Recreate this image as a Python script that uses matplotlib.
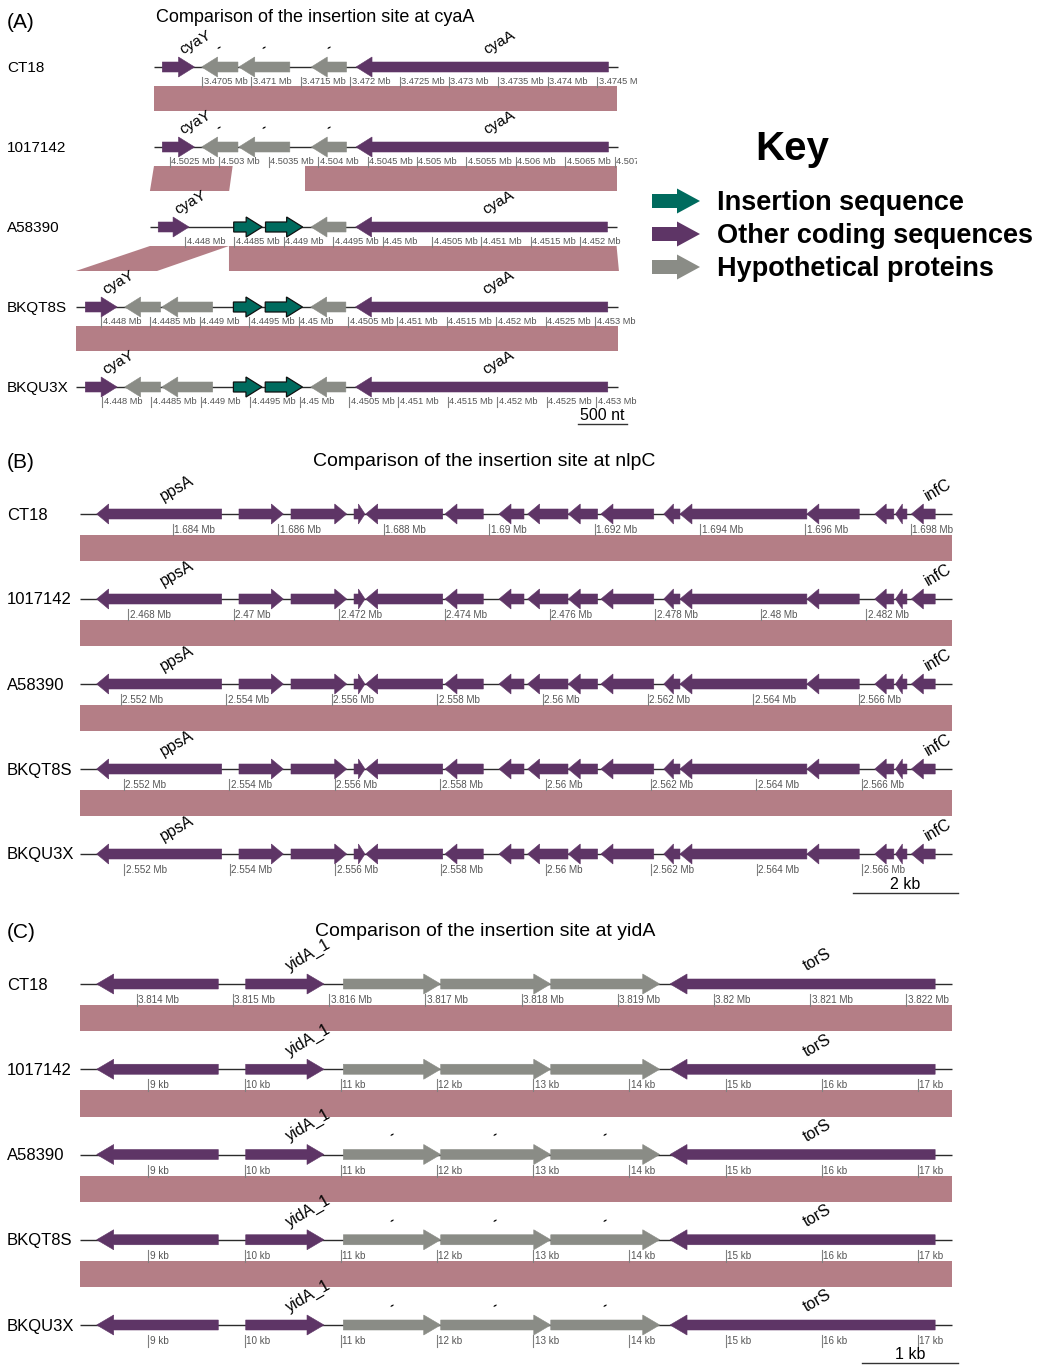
import matplotlib
matplotlib.use("Agg")
import matplotlib.pyplot as plt
from matplotlib.patches import Polygon
import numpy as np

plt.rcParams['font.family'] = ['Liberation Sans', 'DejaVu Sans']

W, H, DPI = 1038, 1365, 100

COLORS = {"IS": "#006B5E", "CDS": "#5E3566", "HYP": "#8A8C86"}
BAND = "#B47E86"
TRACKS = ["CT18", "1017142", "A58390", "BKQT8S", "BKQU3X"]

# ---------------- Panel A : cyaA ----------------
a_anchor = [3470500, 4502824, 4448172, 4449022, 4449012]
a_span_start = [3470014, 4502338, 4447645, 4447745, 4447735]
a_span_end = [3474707, 4507031, 4452368, 4453229, 4453219]

a_ct18_start = [3470098, 3470496, 3470872, 3471606, 3472059]
a_ct18_end = [3470424, 3470864, 3471389, 3471963, 3474614]
a_ct18_strand = [1, -1, -1, -1, -1]
a_ct18_type = ["CDS", "HYP", "HYP", "HYP", "CDS"]
a_ct18_name = ["cyaY", "-", "-", "-", "cyaA"]

a_1017142_start = [4502422, 4502820, 4503196, 4503930, 4504383]
a_1017142_end = [4502748, 4503188, 4503713, 4504287, 4506938]
a_1017142_strand = [1, -1, -1, -1, -1]
a_1017142_type = ["CDS", "HYP", "HYP", "HYP", "CDS"]
a_1017142_name = ["cyaY", "-", "-", "-", "cyaA"]

a_A58390_start = [4447729, 4448493, 4448815, 4449275, 4449727]
a_A58390_end = [4448041, 4448781, 4449191, 4449630, 4452276]
a_A58390_strand = [1, 1, 1, -1, -1]
a_A58390_type = ["CDS", "IS", "IS", "HYP", "CDS"]
a_A58390_name = ["cyaY", "", "", "", "cyaA"]

a_BKQT8S_start = [4447841, 4448239, 4448615, 4449340, 4449662, 4450122, 4450575]
a_BKQT8S_end = [4448163, 4448603, 4449130, 4449629, 4450039, 4450478, 4453129]
a_BKQT8S_strand = [1, -1, -1, 1, 1, -1, -1]
a_BKQT8S_type = ["CDS", "HYP", "HYP", "IS", "IS", "HYP", "CDS"]
a_BKQT8S_name = ["cyaY", "", "", "", "", "", "cyaA"]

a_BKQU3X_start = [4447831, 4448229, 4448605, 4449330, 4449652, 4450112, 4450565]
a_BKQU3X_end = [4448153, 4448593, 4449120, 4449619, 4450029, 4450468, 4453119]
a_BKQU3X_strand = [1, -1, -1, 1, 1, -1, -1]
a_BKQU3X_type = ["CDS", "HYP", "HYP", "IS", "IS", "HYP", "CDS"]
a_BKQU3X_name = ["cyaY", "", "", "", "", "", "cyaA"]

# alignment blocks: upper track, upper start, upper end, lower start, lower end
a_band_track = [0, 1, 1, 2, 2, 3]
a_band_top_start = [3470014, 4502338, 4503867, 4447645, 4448445, 4447745]
a_band_top_end = [3474702, 4503134, 4507024, 4448445, 4452368, 4453229]
a_band_bot_start = [4502338, 4447645, 4449215, 4447745, 4449295, 4447735]
a_band_bot_end = [4507026, 4448447, 4452372, 4448567, 4453242, 4453219]

# ---------------- Panel B : nlpC ----------------
b_anchor = [1684000, 2468848, 2552987, 2552930, 2552924]
b_ref_span = [1682235, 1698776]
b_ref_start = [1682552, 1685252, 1686239, 1687435, 1687657, 1689161, 1690186, 1690729,
               1691500, 1692121, 1693313, 1693620, 1696028, 1697317, 1697710, 1698011]
b_ref_end = [1684924, 1686093, 1687296, 1687643, 1689118, 1689888, 1690660, 1691495,
             1692057, 1693123, 1693620, 1696028, 1697022, 1697678, 1697927, 1698463]
b_ref_strand = [-1, 1, 1, 1, -1, -1, -1, -1, -1, -1, -1, -1, -1, -1, -1, -1]
b_ref_name = ["ppsA"] + [""] * 14 + ["infC"]

# ---------------- Panel C : yidA ----------------
c_anchor = [3814000, 8879, 8879, 8879, 8879]
c_ref_span = [3813411, 3822472]
c_ref_start = [3813584, 3815133, 3816148, 3817160, 3818304, 3819544]
c_ref_end = [3814848, 3815947, 3817160, 3818304, 3819437, 3822300]
c_ref_strand = [-1, 1, 1, 1, 1, -1]
c_ref_type = ["CDS", "CDS", "HYP", "HYP", "HYP", "CDS"]
c_ref_name = ["", "yidA_1", "", "", "", "torS"]
c_hyp_tag_tracks = [2, 3, 4]

fig = plt.figure(figsize=(W / DPI, H / DPI), dpi=DPI)


def fmt_tick(v):
    if v >= 1e6:
        return f"{v/1e6:.4f}".rstrip('0').rstrip('.') + " Mb"
    return f"{v/1000:g} kb"


class Panel:
    def __init__(self, rect, ref_px, scale, t0, sp):
        L, T, R, B = rect
        self.ax = fig.add_axes([L / W, 1 - B / H, (R - L) / W, (B - T) / H])
        self.ax.axis('off')
        self.ref_px, self.scale, self.t0, self.sp = ref_px, scale, t0, sp
        self.ax.set_xlim((L - ref_px) / scale, (R - ref_px) / scale)
        self.ax.set_ylim((B - t0) / sp, (T - t0) / sp)

    def px(self, p):
        return p / self.scale

    def py(self, p):
        return p / self.sp

    def xd(self, px):
        return (px - self.ref_px) / self.scale

    def yd(self, py):
        return (py - self.t0) / self.sp


def draw_gene(P, x0, x1, strand, y, kind, head_px, name, label_fs):
    ax = P.ax
    bh, hh = P.py(5), P.py(10)
    hl = min(P.px(head_px), 0.6 * (x1 - x0))
    if strand > 0:
        pts = [(x0, y - bh), (x1 - hl, y - bh), (x1 - hl, y - hh), (x1, y),
               (x1 - hl, y + hh), (x1 - hl, y + bh), (x0, y + bh)]
    else:
        pts = [(x1, y - bh), (x0 + hl, y - bh), (x0 + hl, y - hh), (x0, y),
               (x0 + hl, y + hh), (x0 + hl, y + bh), (x1, y + bh)]
    ec = "#111111" if kind == "IS" else COLORS[kind]
    lw = 0.9 if kind == "IS" else 0.4
    ax.add_patch(Polygon(pts, closed=True, facecolor=COLORS[kind], edgecolor=ec,
                         linewidth=lw, zorder=3))
    if name:
        cx = (x0 + x1) / 2
        if name == "-":
            ax.text(cx + P.px(1), y - P.py(13), "-", rotation=30, rotation_mode='anchor',
                    ha='left', va='bottom', fontsize=9, fontweight='bold', zorder=4)
        else:
            ax.text(cx + P.px(6), y - P.py(10), name, rotation=30, rotation_mode='anchor',
                    ha='left', va='bottom', fontsize=label_fs, zorder=4)


def draw_track(P, i, anchor, s0, s1, starts, ends, strands, kinds, names, step,
               head_px, tick_fs, label_fs, name_fs, tick_top, tick_bot, tick_lab):
    ax = P.ax
    ax.plot([s0 - anchor, s1 - anchor], [i, i], color="#2b2b2b", lw=1.0, zorder=2,
            solid_capstyle='butt')
    for a, b, s, k, n in zip(starts, ends, strands, kinds, names):
        draw_gene(P, a - anchor, b - anchor, s, i, k, head_px, n, label_fs)
    ticks = np.arange(np.ceil(s0 / step) * step, s1 + 1, step)
    for t in ticks:
        x = t - anchor
        ax.plot([x, x], [i + P.py(tick_top), i + P.py(tick_bot)], color="#808080",
                lw=0.8, zorder=2)
        ax.text(x + P.px(1.5), i + P.py(tick_lab), fmt_tick(t), fontsize=tick_fs,
                color="#555555", ha='left', va='center', clip_on=True)
    ax.text(P.xd(7), i + P.py(1), TRACKS[i], fontsize=name_fs, ha='left', va='center')


def draw_band(P, i, ts, te, bs, be, at, ab, top_px, bot_px):
    yt = i + P.py(top_px)
    yb = i + 1 - P.py(bot_px)
    P.ax.add_patch(Polygon([(ts - at, yt), (te - at, yt), (be - ab, yb), (bs - ab, yb)],
                           closed=True, facecolor=BAND, edgecolor='none', zorder=1))


def draw_scalebar(P, right_px, y_px, length):
    xr = P.xd(right_px)
    y = P.yd(y_px)
    P.ax.plot([xr - length, xr], [y, y], color="#333333", lw=1.0)
    lab = f"{length} nt" if length < 1000 else f"{length // 1000} kb"
    P.ax.text(xr - length / 2, y - P.py(1), lab, fontsize=11.5, ha='center', va='bottom')


# ---------------- draw panel A ----------------
PA = Panel((0, 0, 637, 440), ref_px=202, scale=0.0988, t0=67, sp=80)
fig.text(7 / W, 1 - 22 / H, "(A)", fontsize=15, ha='left', va='center')
fig.text(156 / W, 1 - 18 / H, "Comparison of the insertion site at cyaA", fontsize=13,
         ha='left', va='center')
a_tracks = [
    (a_ct18_start, a_ct18_end, a_ct18_strand, a_ct18_type, a_ct18_name),
    (a_1017142_start, a_1017142_end, a_1017142_strand, a_1017142_type, a_1017142_name),
    (a_A58390_start, a_A58390_end, a_A58390_strand, a_A58390_type, a_A58390_name),
    (a_BKQT8S_start, a_BKQT8S_end, a_BKQT8S_strand, a_BKQT8S_type, a_BKQT8S_name),
    (a_BKQU3X_start, a_BKQU3X_end, a_BKQU3X_strand, a_BKQU3X_type, a_BKQU3X_name),
]
for i, (st, en, sd, ty, nm) in enumerate(a_tracks):
    draw_track(PA, i, a_anchor[i], a_span_start[i], a_span_end[i], st, en, sd, ty, nm,
               500, 16, 6.7, 11, 11, 10, 20, 14)
for k, i in enumerate(a_band_track):
    draw_band(PA, i, a_band_top_start[k], a_band_top_end[k], a_band_bot_start[k],
              a_band_bot_end[k], a_anchor[i], a_anchor[i + 1], 19, 36)
draw_scalebar(PA, 627, 424, 500)

# ---------------- key ----------------
KX = fig.add_axes([640 / W, 1 - 300 / H, (1038 - 640) / W, (300 - 110) / H])
KX.axis('off')
KX.set_xlim(640, 1038)
KX.set_ylim(300, 110)
KX.text(792, 149, "Key", fontsize=29, fontweight='bold', ha='center', va='center')
key_labels = ["Insertion sequence", "Other coding sequences", "Hypothetical proteins"]
key_kinds = ["IS", "CDS", "HYP"]
for j, (lab, kd) in enumerate(zip(key_labels, key_kinds)):
    yc = 201 + j * 33
    pts = [(652, yc - 7), (677, yc - 7), (677, yc - 12.5), (700, yc), (677, yc + 12.5),
           (677, yc + 7), (652, yc + 7)]
    KX.add_patch(Polygon(pts, closed=True, facecolor=COLORS[kd], edgecolor='none'))
    KX.text(717, yc + 2, lab, fontsize=19.5, fontweight='bold', ha='left', va='center')

# ---------------- draw panel B ----------------
PB = Panel((0, 440, 1038, 905), ref_px=173, scale=0.0527, t0=514, sp=85)
fig.text(7 / W, 1 - 462 / H, "(B)", fontsize=15, ha='left', va='center')
fig.text(313 / W, 1 - 462 / H, "Comparison of the insertion site at nlpC", fontsize=14,
         ha='left', va='center')
for i in range(5):
    off = b_anchor[i] - b_anchor[0]
    draw_track(PB, i, b_anchor[i], b_ref_span[0] + off, b_ref_span[1] + off,
               [s + off for s in b_ref_start], [e + off for e in b_ref_end],
               b_ref_strand, ["CDS"] * len(b_ref_start), b_ref_name,
               2000, 12, 7.1, 11.5, 12, 10, 21, 16)
for i in range(4):
    o1 = b_anchor[i] - b_anchor[0]
    o2 = b_anchor[i + 1] - b_anchor[0]
    draw_band(PB, i, b_ref_span[0] + o1, b_ref_span[1] + o1, b_ref_span[0] + o2,
              b_ref_span[1] + o2, b_anchor[i], b_anchor[i + 1], 21, 38)
draw_scalebar(PB, 958, 893, 2000)

# ---------------- draw panel C ----------------
PC = Panel((0, 905, 1038, 1365), ref_px=136.7, scale=0.0962, t0=984, sp=85.25)
fig.text(7 / W, 1 - 932 / H, "(C)", fontsize=15, ha='left', va='center')
fig.text(315 / W, 1 - 932 / H, "Comparison of the insertion site at yidA", fontsize=14,
         ha='left', va='center')
for i in range(5):
    off = c_anchor[i] - c_anchor[0]
    names = [("-" if (t == "HYP" and i in c_hyp_tag_tracks) else n)
             for n, t in zip(c_ref_name, c_ref_type)]
    draw_track(PC, i, c_anchor[i], c_ref_span[0] + off, c_ref_span[1] + off,
               [s + off for s in c_ref_start], [e + off for e in c_ref_end],
               c_ref_strand, c_ref_type, names, 1000, 17, 7.1, 11.5, 12, 10, 22, 16)
for i in range(4):
    o1 = c_anchor[i] - c_anchor[0]
    o2 = c_anchor[i + 1] - c_anchor[0]
    draw_band(PC, i, c_ref_span[0] + o1, c_ref_span[1] + o1, c_ref_span[0] + o2,
              c_ref_span[1] + o2, c_anchor[i], c_anchor[i + 1], 21, 38)
draw_scalebar(PC, 958, 1363, 1000)

fig.savefig("out.png", dpi=DPI)
